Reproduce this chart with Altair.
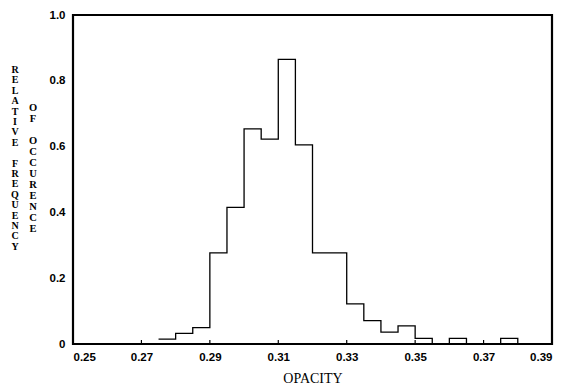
import altair as alt
import pandas as pd

# Histogram bins (left edges) and relative frequencies
bin_edges = [0.275, 0.280, 0.285, 0.290, 0.295, 0.300, 0.305, 0.310, 0.315, 0.320,
             0.325, 0.330, 0.335, 0.340, 0.345, 0.350, 0.355, 0.360, 0.365, 0.370,
             0.375, 0.380]
rel_freq = [0.015, 0.032, 0.050, 0.277, 0.415, 0.654, 0.623, 0.865, 0.605, 0.277,
            0.277, 0.122, 0.071, 0.036, 0.055, 0.017, 0.0, 0.017, 0.0, 0.0,
            0.017, 0.0]

x_ticks = [0.25, 0.27, 0.29, 0.31, 0.33, 0.35, 0.37, 0.39]
y_ticks = [0, 0.2, 0.4, 0.6, 0.8, 1.0]
inner_ticks = [0.27, 0.29, 0.31, 0.33, 0.35, 0.37]

col1_text = "RELATIVE FREQUENCY"
col2_text = "OF OCCURENCE"

W, H = 479, 329

df = pd.DataFrame({"edge": bin_edges, "freq": rel_freq})

xscale = alt.Scale(domain=[0.25, 0.39], nice=False, zero=False)
yscale = alt.Scale(domain=[0, 1.0], nice=False)

hist = alt.Chart(df).mark_line(
    interpolate="step-after", color="black", strokeWidth=1.3
).encode(
    x=alt.X("edge:Q", scale=xscale, title="OPACITY",
            axis=alt.Axis(values=x_ticks, format=".2f", ticks=False, grid=False,
                          domain=False, labelFont="Liberation Sans", labelFontWeight="bold",
                          labelFontSize=11.5, labelColor="black", labelPadding=7,
                          titleFont="Liberation Serif", titleFontSize=14,
                          titleFontWeight="normal", titleColor="black", titlePadding=9)),
    y=alt.Y("freq:Q", scale=yscale, title=None,
            axis=alt.Axis(values=y_ticks, ticks=False, grid=False, domain=False,
                          labelExpr="datum.value == 0 ? '0' : format(datum.value, '.1f')",
                          labelFont="Liberation Sans", labelFontWeight="bold",
                          labelFontSize=11.5, labelColor="black", labelPadding=8)),
)

tick_df = pd.DataFrame({"t": inner_ticks})
ticks = alt.Chart(tick_df).mark_rule(color="black", strokeWidth=1.2).encode(
    x=alt.X("t:Q", scale=xscale),
    y=alt.value(H),
    y2=alt.value(H - 4),
)

one = pd.DataFrame({"a": [0]})


def letter_column(text, x, y0, step, size):
    layers = []
    for i, ch in enumerate(text):
        if ch == " ":
            continue
        layers.append(
            alt.Chart(one).mark_text(
                font="Liberation Serif", fontWeight="bold", fontSize=size,
                color="black", align="center", baseline="middle"
            ).encode(x=alt.value(x), y=alt.value(y0 + i * step), text=alt.value(ch))
        )
    return layers


letters = letter_column(col1_text, -58, 55, 10.4, 10) + \
          letter_column(col2_text, -40, 93, 11, 10.5)

chart = alt.layer(hist, ticks, *letters).properties(
    width=W, height=H,
    autosize=alt.AutoSizeParams(type="none"),
    padding={"left": 73, "top": 15, "right": 11, "bottom": 43},
    background="white",
).configure_view(stroke="black", strokeWidth=2.2)

chart.save("out.html", embed_options={"renderer": "svg", "actions": False})
